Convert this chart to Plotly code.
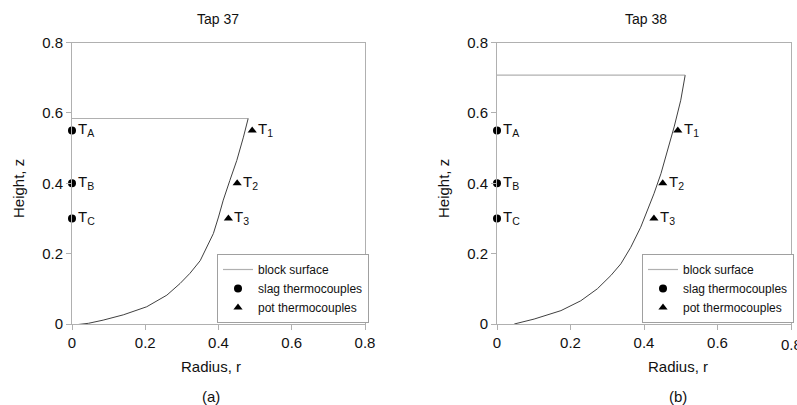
import plotly.graph_objects as go

W, H = 797, 405

# Block surface profiles (radius r, height z)
r37 = [0.004, 0.045, 0.085, 0.14, 0.204, 0.259, 0.295, 0.322, 0.35, 0.368, 0.386, 0.40, 0.413, 0.431, 0.45, 0.468, 0.481]
z37 = [-0.003, 0.002, 0.011, 0.026, 0.049, 0.082, 0.115, 0.144, 0.18, 0.219, 0.257, 0.304, 0.352, 0.408, 0.465, 0.531, 0.584]
r38 = [0.047, 0.101, 0.174, 0.228, 0.273, 0.31, 0.337, 0.364, 0.391, 0.409, 0.427, 0.446, 0.464, 0.482, 0.50, 0.512]
z38 = [0.0, 0.014, 0.038, 0.066, 0.10, 0.138, 0.171, 0.218, 0.275, 0.323, 0.37, 0.427, 0.494, 0.56, 0.636, 0.707]

# Thermocouples
slag_r = [0.0, 0.0, 0.0]
slag_z = [0.55, 0.40, 0.30]
slag_lbl = ["T<sub>A</sub>", "T<sub>B</sub>", "T<sub>C</sub>"]
pot_r = [0.492, 0.451, 0.427]
pot_z = [0.55, 0.40, 0.30]
pot_lbl = ["T<sub>1</sub>", "T<sub>2</sub>", "T<sub>3</sub>"]

titles = ["Tap 37", "Tap 38"]
captions = ["(a)", "(b)"]
ticks = [0, 0.2, 0.4, 0.6, 0.8]
tick_text = ["0", "0.2", "0.4", "0.6", "0.8"]

FONT = "Arial, Liberation Sans, sans-serif"
fig = go.Figure()

panels = [
    dict(r=r37, z=z37, xa="x", ya="y", legend="legend"),
    dict(r=r38, z=z38, xa="x2", ya="y2", legend="legend2"),
]
for p in panels:
    top = p["z"][-1]
    fig.add_trace(go.Scatter(x=[0, p["r"][-1]], y=[top, top], mode="lines",
                             line=dict(color="#b0b0b0", width=1.2), name="block surface",
                             xaxis=p["xa"], yaxis=p["ya"], legend=p["legend"]))
    fig.add_trace(go.Scatter(x=p["r"], y=p["z"], mode="lines",
                             line=dict(color="#404040", width=1),
                             showlegend=False, xaxis=p["xa"], yaxis=p["ya"], hoverinfo="skip"))
    fig.add_trace(go.Scatter(x=slag_r, y=slag_z, mode="markers", name="slag thermocouples",
                             marker=dict(symbol="circle", size=8, color="black"), cliponaxis=False,
                             xaxis=p["xa"], yaxis=p["ya"], legend=p["legend"]))
    fig.add_trace(go.Scatter(x=pot_r, y=pot_z, mode="markers", name="pot thermocouples",
                             marker=dict(symbol="triangle-up", size=8, color="black"), cliponaxis=False,
                             xaxis=p["xa"], yaxis=p["ya"], legend=p["legend"]))
    for xs, ys, ls in [(slag_r, slag_z, slag_lbl), (pot_r, pot_z, pot_lbl)]:
        for xv, yv, lb in zip(xs, ys, ls):
            fig.add_annotation(x=xv, y=yv, xref=p["xa"], yref=p["ya"], text=lb, showarrow=False,
                               xanchor="left", yanchor="middle", xshift=4, yshift=1,
                               font=dict(size=15, color="#111", family=FONT))

ax_common = dict(range=[0, 0.8], tickvals=ticks, ticktext=tick_text, showgrid=False, zeroline=False,
                 showline=True, linecolor="#b0b0b0", linewidth=1, mirror=True,
                 ticks="outside", ticklen=5, tickcolor="#b0b0b0", automargin=False,
                 tickfont=dict(size=15, color="#111", family=FONT))

xd1 = [72 / W, 365 / W]
xd2 = [497 / W, 791 / W]
yd = [1 - 324 / H, 1 - 42.5 / H]

leg_common = dict(xanchor="left", yanchor="top", bordercolor="#a0a0a0", borderwidth=1, bgcolor="white",
                  font=dict(size=12, color="#111", family=FONT), tracegroupgap=0, itemwidth=30)

fig.update_layout(
    width=W, height=H, margin=dict(l=0, r=0, t=0, b=0, autoexpand=False),
    paper_bgcolor="white", plot_bgcolor="white",
    font=dict(family=FONT, color="#111"),
    xaxis=dict(domain=xd1, anchor="y", **ax_common),
    yaxis=dict(domain=yd, anchor="x", **ax_common),
    xaxis2=dict(domain=xd2, anchor="y2", **ax_common),
    yaxis2=dict(domain=yd, anchor="x2", **ax_common),
    legend=dict(x=217 / W, y=1 - 254 / H, **leg_common),
    legend2=dict(x=642 / W, y=1 - 254 / H, **leg_common),
    showlegend=True,
)

# The right panel's last tick label runs off the page edge (as in the reference)
fig.add_annotation(x=ticks[-1], y=1 - 344 / H, xref="x2", yref="paper", text=tick_text[-1],
                   showarrow=False, xanchor="center", yanchor="middle",
                   font=dict(size=15, family=FONT, color="#111"))

# Titles, axis labels, captions
title_x = [218 / W, 646 / W]
rad_x = [211 / W, 678 / W]
hz_x = [18 / W, 443 / W]
for i in range(2):
    common = dict(xref="paper", yref="paper", showarrow=False, xanchor="center", yanchor="middle")
    fig.add_annotation(x=title_x[i], y=1 - 19 / H, text=titles[i],
                       font=dict(size=14, family=FONT, color="#111"), **common)
    fig.add_annotation(x=rad_x[i], y=1 - 366 / H, text="Radius, r",
                       font=dict(size=15, family=FONT, color="#111"), **common)
    fig.add_annotation(x=hz_x[i], y=1 - 189 / H, text="Height, z", textangle=-90,
                       font=dict(size=15, family=FONT, color="#111"), **common)
    fig.add_annotation(x=rad_x[i], y=1 - 396 / H, text=captions[i],
                       font=dict(size=15, family=FONT, color="#111"), **common)

fig.write_html("out.html")
